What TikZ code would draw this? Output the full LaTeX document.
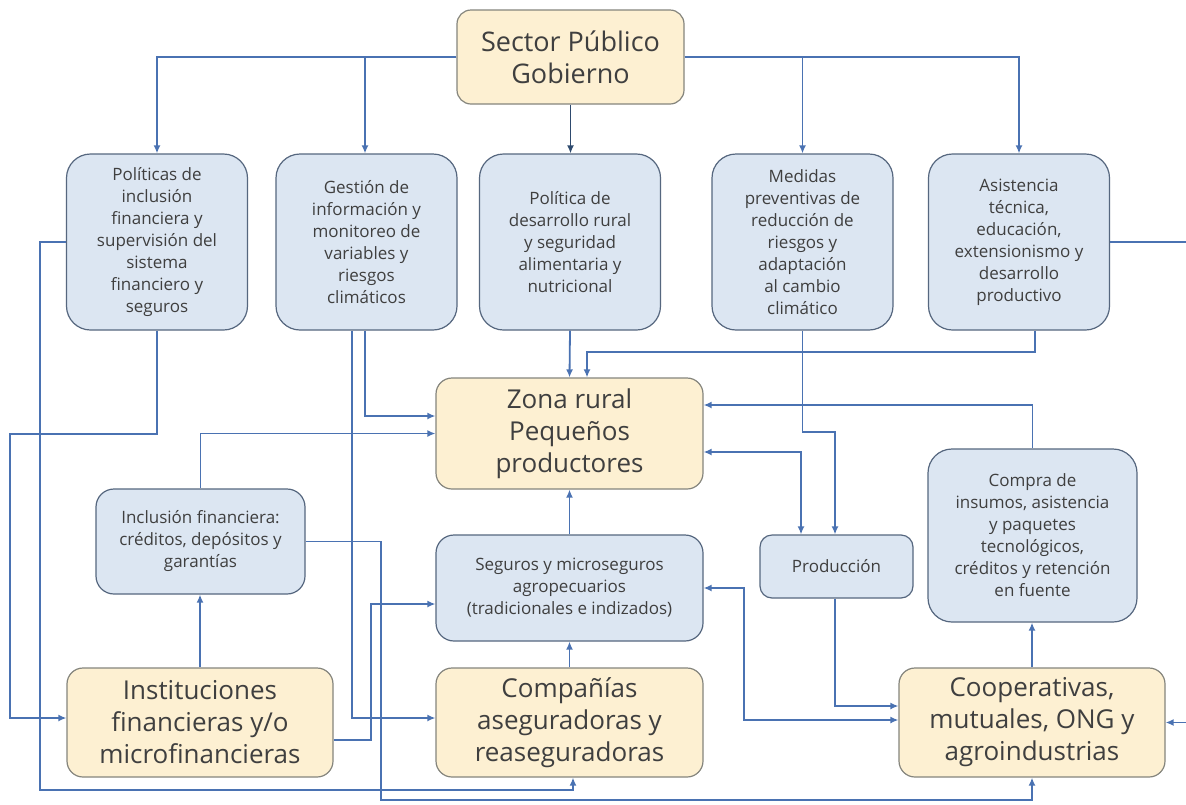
\documentclass[tikz,border=0pt]{standalone}
\usepackage{fontspec}
\setmainfont{Open Sans}
\usetikzlibrary{positioning,arrows.meta}
\definecolor{lineblue}{HTML}{4A72B2}
\definecolor{darkline}{HTML}{2E4A6E}
\definecolor{bluefill}{HTML}{DCE6F2}
\definecolor{blueedge}{HTML}{56677F}
\definecolor{yellowfill}{HTML}{FDF0D2}
\definecolor{yellowedge}{HTML}{85857D}
\definecolor{txt}{HTML}{3F3F3F}

\begin{document}
\begin{tikzpicture}[x=1pt, y=-1pt,
  bluebox/.style={draw=blueedge, fill=bluefill, line width=1.2pt, rounded corners=20pt, align=center, inner sep=0pt, text=txt, font=\fontsize{17}{22}\selectfont},
  policy/.style={bluebox, rounded corners=24pt, minimum width=181pt, minimum height=176pt},
  yellowbox/.style={draw=yellowedge, fill=yellowfill, line width=1.2pt, rounded corners=16pt, align=center, inner sep=0pt, text=txt, font=\fontsize{26}{32}\selectfont, minimum width=266pt, minimum height=109pt},
  conn/.style={draw=lineblue, line width=1.8pt, -{Latex[length=8pt,width=7pt]}},
  connb/.style={conn, {Latex[length=8pt,width=7pt]}-{Latex[length=8pt,width=7pt]}}
]
  \fill[white] (0,0) rectangle (1186,804);
  \useasboundingbox (0,0) rectangle (1186,804);

  % gobierno y politicas
  \node[yellowbox, minimum width=227pt, minimum height=94pt, rounded corners=14pt, font=\fontsize{27}{32}\selectfont] (gov) at (570.5,57) {Sector Público\\Gobierno};
  \node[policy] (p1) at (157,242) {Políticas de\\inclusión\\financiera y\\supervisión del\\sistema\\financiero y\\seguros};
  \node[policy] (p2) at (366.5,242) {Gestión de\\información y\\monitoreo de\\variables y\\riesgos\\climáticos};
  \node[policy] (p3) at (570,242) {Política de\\desarrollo rural\\y seguridad\\alimentaria y\\nutricional};
  \node[policy] (p4) at (802.5,242) {Medidas\\preventivas de\\reducción de\\riesgos y\\adaptación\\al cambio\\climático};
  \node[policy] (p5) at (1019,242) {Asistencia\\técnica,\\educación,\\extensionismo y\\desarrollo\\productivo};

  % zona rural y servicios
  \node[yellowbox, minimum width=267pt, minimum height=111pt] (zona) at (569.5,433.5) {Zona rural\\Pequeños\\productores};
  \node[bluebox, minimum width=209pt, minimum height=105pt, rounded corners=18pt] (incl) at (200.5,541.5) {Inclusión financiera:\\créditos, depósitos y\\garantías};
  \node[bluebox, minimum width=267pt, minimum height=106pt, rounded corners=18pt] (seg) at (569.5,588) {Seguros y microseguros\\agropecuarios\\(tradicionales e indizados)};
  \node[bluebox, minimum width=153pt, minimum height=63pt, rounded corners=12pt] (prod) at (836.5,566.5) {Producción};
  \node[bluebox, minimum width=209pt, minimum height=173pt, rounded corners=24pt] (compra) at (1032.5,535.5) {Compra de\\insumos, asistencia\\y paquetes\\tecnológicos,\\créditos y retención\\en fuente};

  % actores
  \node[yellowbox] (inst) at (200,722.5) {Instituciones\\financieras y/o\\microfinancieras};
  \node[yellowbox, minimum width=267pt] (comp) at (569.5,722.5) {Compañías\\aseguradoras y\\reaseguradoras};
  \node[yellowbox] (coop) at (1032,722.5) {Cooperativas,\\mutuales, ONG y\\agroindustrias};

  % desde gobierno
  \draw[conn] (gov.west) -| (p1.north);
  \draw[conn] (gov.west) -| ([xshift=-1.5pt]p2.north);
  \draw[conn, draw=darkline] (gov.south) -- (gov.south |- p3.north);
  \draw[conn] (gov.east) -| (p4.north);
  \draw[conn] (gov.east) -| (p5.north);

  % izquierda
  \draw[conn] (p1.south) -- (157,434) -- (10,434) |- ([yshift=4.5pt]inst.west);
  \draw[conn] (p1.west) -- (40,242) -- (40,790) -| ([xshift=3.5pt]comp.south);
  \draw[conn] (incl.east) -- (381,541.5) -- (381,800) -| (coop.south);
  \draw[conn] ([xshift=-1.5pt]p2.south) |- ([yshift=17.5pt]zona.west);
  \draw[conn] ([xshift=-14.5pt]p2.south) |- ([yshift=4.5pt]comp.west);
  \draw[conn] (incl.north) |- (zona.west);
  \draw[conn] (inst.north) -- (inst.north |- incl.south);
  \draw[conn] ([yshift=-17.5pt]inst.east) -- (371,740) |- ([yshift=-16pt]seg.west);

  % centro
  \draw[conn] (seg.north) -- (zona.south);
  \draw[conn] (comp.north) -- (seg.south);
  \draw[conn] (p3.south) -- (zona.north);
  \draw[conn] ([xshift=16pt]p5.south) |- (587,352) -- ([xshift=17.5pt]zona.north);

  % derecha
  \draw[conn] (p4.south) -- (802.5,432) -| ([xshift=-1.5pt]prod.north);
  \draw[connb] ([yshift=-18.5pt]zona.east) -| ([xshift=-35.5pt]prod.north);
  \draw[conn] (compra.north) |- ([yshift=28.5pt]zona.east);
  \draw[conn] (coop.north) -- (coop.north |- compra.south);
  \draw[conn] ([xshift=-1.5pt]prod.south) |- ([yshift=16.5pt]coop.west);
  \draw[connb] (seg.east) -- (744,588) |- ([yshift=2.5pt]coop.west);
  \draw[conn] (p5.east) -- (1188,242) |- (coop.east);
\end{tikzpicture}
\end{document}
